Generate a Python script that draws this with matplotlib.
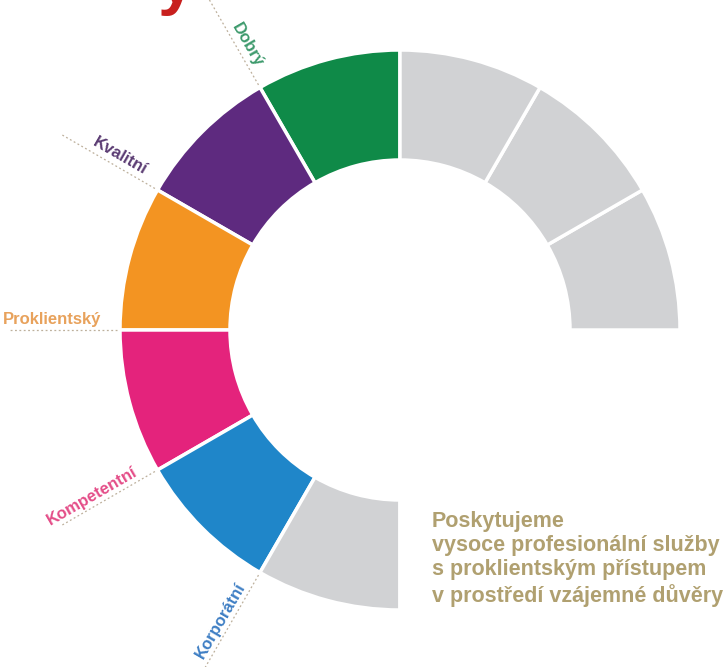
import numpy as np
import matplotlib
matplotlib.use("Agg")
import matplotlib.pyplot as plt

plt.rcParams['font.family'] = ['Liberation Sans', 'DejaVu Sans']

# slices of 30 degrees each, counterclockwise from the top
slice_sizes = [1, 1, 1, 1, 1, 1, 3, 1, 1, 1]
slice_colors = ['#0f8a48', '#5e2a7f', '#f39422', '#e4237c', '#1f86c9',
                '#d1d2d4', 'none', '#d1d2d4', '#d1d2d4', '#d1d2d4']
labels = ['Dobrý', 'Kvalitní', 'Proklientský', 'Kompetentní', 'Korporátní']
label_colors = ['#3d9a6c', '#5b3c73', '#e8a25c', '#e44d88', '#3f7fc4']
note = ['Poskytujeme',
        'vysoce profesionální služby',
        's proklientským přístupem',
        'v prostředí vzájemné důvěry']

fig = plt.figure(figsize=(7.26, 6.67), dpi=100)
ax = fig.add_axes([0, 0, 1, 1])

cx, cy = 400, 337
R = 280
ax.pie(slice_sizes, colors=slice_colors, startangle=90, counterclock=True,
       radius=R, center=(cx, cy), frame=True,
       wedgeprops=dict(width=110, edgecolor='white', linewidth=2.5))

# radial labels sitting on the outer boundary of each coloured slice
step = 360 / sum(slice_sizes)
for i, (lab, col) in enumerate(zip(labels, label_colors)):
    theta = 90 + step * (i + 1)
    t = np.radians(theta)
    ax.plot([cx + 283 * np.cos(t), cx + 390 * np.cos(t)],
            [cy + 283 * np.sin(t), cy + 390 * np.sin(t)],
            color='#bdb09c', lw=0.9, ls=(0, (1.5, 2)))
    px = cx + 299 * np.cos(t) + 3 * np.sin(t)
    py = cy + 299 * np.sin(t) - 3 * np.cos(t)
    ax.text(px, py, lab, color=col, fontsize=12, fontweight='bold',
            rotation=theta - 180, rotation_mode='anchor',
            ha='right', va='bottom')

ax.text(432, 667 - 511, '\n'.join(note), color='#b0a070', fontsize=15.5,
        fontweight='bold', ha='left', va='top', linespacing=1.2)

# cut-off red heading at the very top
ax.text(157, 665, 'y', color='#c8201e', fontsize=48, fontweight='bold',
        ha='left', va='baseline')

ax.set_xlim(0, 726)
ax.set_ylim(0, 667)
ax.set_aspect('auto')
ax.axis('off')

fig.savefig('out.png', dpi=100, facecolor='white')
